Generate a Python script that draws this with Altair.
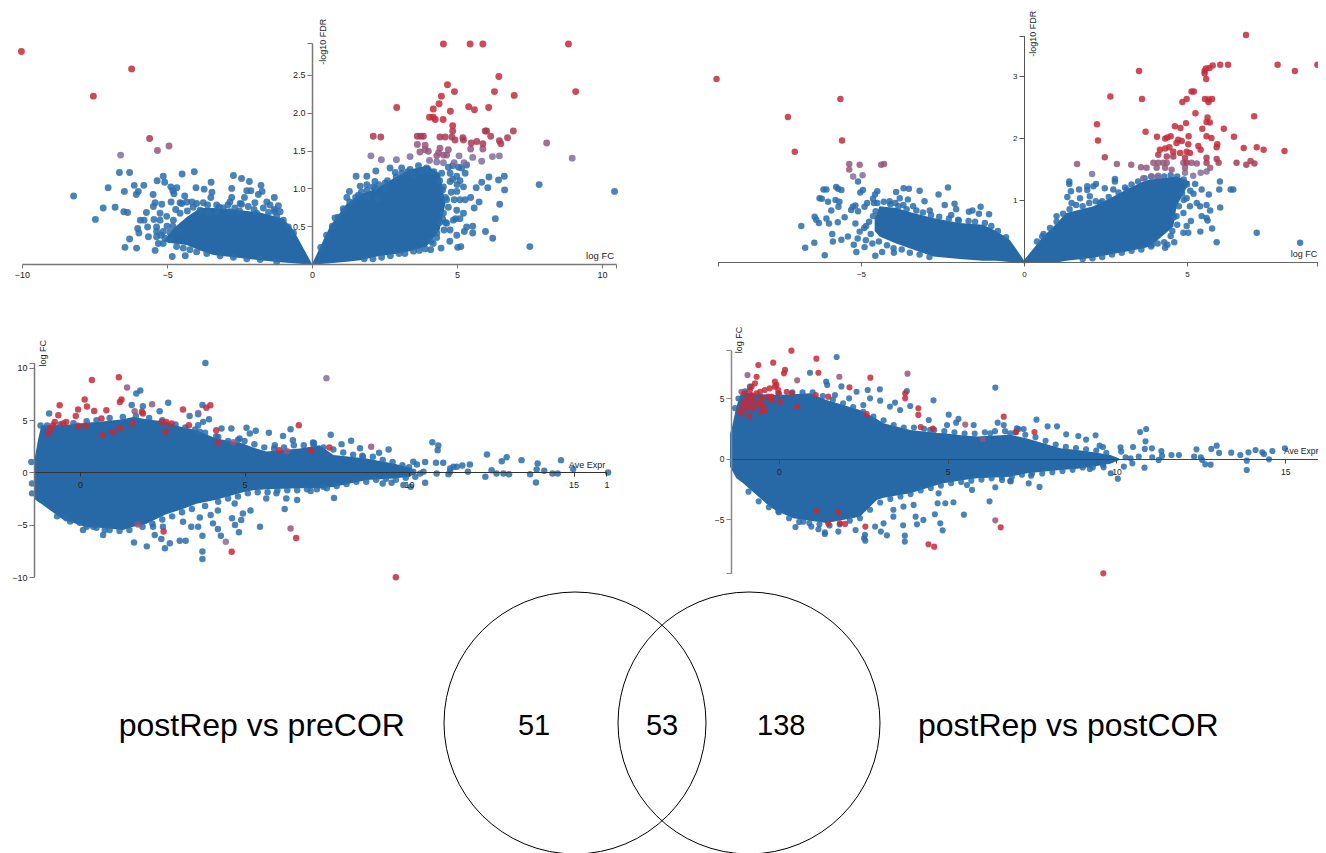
import altair as alt
import pandas as pd

W, H = 1310, 845
FONT = "Liberation Sans"
COLORS = {"blue": "#2a6dab", "purple": "#7f6f9f", "mauve": "#95567c", "wine": "#a93a54", "red": "#c42a39"}

# ---------- panel 1: volcano, postRep vs preCOR ----------
P1_UP_X = [-5.13, -4.78, -4.32, -3.86, -3.4, -2.71, -1.79, -0.99, -0.64, 0.0, 0.62, 1.2, 1.66, 2.23, 2.8, 3.38, 3.95, 4.4, 4.6]
P1_HI = [0.3, 0.47, 0.62, 0.74, 0.74, 0.72, 0.68, 0.6, 0.45, 0.0, 0.5, 0.8, 0.92, 1.0, 1.13, 1.25, 1.3, 1.2, 0.8]
P1_LO = [0.3, 0.27, 0.25, 0.18, 0.12, 0.09, 0.05, 0.02, 0.01, -0.01, 0.01, 0.03, 0.05, 0.1, 0.13, 0.17, 0.23, 0.45, 0.8]
P1_EDGE = [(-4.49,.8),(-4.32,.82),(-3.98,.8),(-3.86,.71),(-3.57,.67),(-3.29,.69),(-3.06,.74),(-2.83,.69),(-2.66,.74),(-2.43,.79),(-2.2,.76),(-1.91,.67),(-1.68,.74),(-1.45,.78),(-1.22,.63),(-.99,.58),(-.82,.49),(-.64,.41),
(-5.36,.49),(-5.24,.58),(-5.01,.63),(-4.78,.58),(-4.55,.67),(-5.36,.36),(-5.13,.27),(-4.9,.32),(-4.67,.23),(-4.44,.21),(-4.21,.19),(-3.98,.16),(-3.63,.14),(-3.17,.11),(-2.71,.09),(-2.25,.07),(-1.79,.06),(-1.22,.03),
(-5.0,.5),(-4.9,.42),(-4.8,.5),(-4.6,.45),(-5.2,.38),(-4.7,.72),(-4.3,.7),(-4.1,.75),(-3.6,.78),(-3.2,.75),(-2.9,.78),(-2.5,.7),(-2.0,.72),(-1.3,.72),(-1.5,.68),
(.3,.22),(.5,.38),(.7,.5),(.9,.62),(1.1,.7),(1.3,.82),(1.5,.88),(1.7,.95),(1.9,.98),(2.1,1.02),(2.3,1.05),(2.6,1.1),(2.5,1.0),(2.9,1.15),(3.1,1.2),(3.3,1.22),(3.5,1.18),(3.8,1.22),(4.0,1.25),(4.2,1.22),(4.4,1.1),(4.5,.98),(4.6,.88),(4.7,.75),
(4.5,.6),(4.4,.55),(4.55,.45),(4.3,.35),(4.1,.3),(3.9,.2),(3.7,.18),(3.5,.17),(3.2,.14),(3.0,.14),(2.7,.11),(2.4,.09),(2.1,.07),(1.8,.07),(4.8,.95),(4.9,.85),(4.95,.6),(5.1,.6),(4.75,.3),(4.6,.55),(5.0,1.05),(5.1,1.1),(4.85,1.12),(4.7,1.28),(4.85,1.3),(5.05,1.28)]
P1_BLUE = [(-6.64,1.21),(-6.29,1.21),(-7.03,1.01),(-8.22,.9),(-6.47,.96),(-6.13,1.04),(-5.8,1.04),(-5.99,.96),(-6.06,.92),(-5.48,.92),
(-5.34,1.1),(-5.13,1.16),(-5.08,1.08),(-4.48,1.19),(-4.06,1.22),(-4.87,1.02),(-4.66,1.01),(-4.8,.97),(-4.76,.93),(-4.39,.9),(-4.0,1.01),
(-3.72,.99),(-3.48,1.08),(-3.45,.95),(-3.49,.88),(-2.71,1.17),(-2.43,1.13),(-2.16,1.09),(-1.76,1.04),(-2.77,1.0),(-2.25,.97),(-2.11,.97),
(-1.72,.96),(-1.85,.92),(-1.3,.88),(-2.77,.88),(-2.33,.88),(-7.2,.74),(-6.79,.75),(-6.49,.69),(-6.36,.68),(-7.47,.59),(-5.71,.68),(-5.92,.58),
(-5.79,.58),(-5.67,.49),(-6.01,.47),(-5.97,.41),(-6.29,.33),(-6.45,.22),(-6.05,.21),(-4.82,.1),(-4.37,.11),(-5.41,.18),(-5.64,.36),(-5.47,.76),
(-5.41,.81),(-5.18,.79),(-4.86,.82),(-4.55,.81),(-5.24,.67),(-5.45,.59),(-5.36,.43),(-5.13,.43),(-4.14,.82),(-3.75,.81),(-3.29,.78),(-2.83,.82),
(-2.48,.8),(-1.97,.81),(-1.56,.82),(-1.16,.77),(-1.28,.69),(-1.1,.69),(-5.3,.27),(-5.07,.34),
(10.43,.96),(7.83,1.05),(7.51,.23),(6.23,.34),(5.98,.43),(6.32,.6),(6.47,.79),(6.64,.98),(6.63,1.16),(6.43,1.11),(6.1,1.15),(6.06,1.01),(5.85,1.08),
(5.66,1.01),(5.76,.82),(5.59,.74),(5.47,.88),(5.28,.85),(5.22,.67),(5.33,.49),(5.54,.5),(5.25,.43),(5.54,.41),(5.02,.22),(5.13,.23),(4.45,.21),(4.09,.19),
(4.99,.38),(4.76,.45),(4.87,.58),(4.99,.71),(5.1,.85),(5.22,1.02),(5.28,1.2),(5.33,1.31),(5.16,1.27),(1.52,1.16),(1.89,1.16),(2.2,1.23),(2.69,1.27),
(2.87,1.21),(3.09,1.27),(3.38,1.25),(3.67,1.3),(3.95,1.27),(1.66,1.03),(1.89,1.05),(2.17,1.09),(2.17,1.0),(2.52,1.07),(1.29,.96),(1.2,.88),(1.6,.91),
(1.89,.88),(2.25,.86),(1.08,.73),(.79,.61),(4.53,1.02),(4.76,1.09),(4.99,.96),(4.64,.85),(4.53,.67),(4.64,.54),(4.3,.41),(4.18,.27),(4.47,1.2),(4.76,1.2),(4.99,1.16)]
P1_PURPLE = [(-6.6,1.44),(2.03,1.43),(2.39,1.38),(2.91,1.38),(3.38,1.42),(5.07,1.43),(5.54,1.41),(6.22,1.42),(6.46,1.43),(8.97,1.4),(4.05,1.37),(4.3,1.35),(4.53,1.34),(4.9,1.34),(5.24,1.34),(5.85,1.36)]
P1_MAUVE = [(-5.33,1.5),(-4.93,1.56),(3.63,1.58),(3.9,1.57),(3.9,1.51),(3.72,1.48),(4.01,1.49),(4.41,1.53),(4.7,1.51),(4.36,1.47),(4.53,1.44),(4.3,1.43),(4.64,1.44),(5.47,1.52),(5.89,1.52),(8.09,1.6)]
P1_WINE = [(-5.6,1.66),(2.11,1.69),(2.37,1.68),(3.63,1.69),(3.75,1.69),(3.84,1.69),(4.41,1.68),(4.59,1.68),(4.82,1.68),(5.2,1.67),(6.16,1.69),(6.74,1.67),(4.93,1.64),(5.22,1.64),(6.46,1.63),(6.51,1.59),(5.68,1.62),(5.49,1.6),(5.89,1.59),(4.85,1.76),(5.97,1.76),(6.02,1.76),(6.94,1.76)]
P1_RED = [(-10.02,2.81),(-6.22,2.58),(-7.54,2.22),(4.53,2.91),(5.45,2.91),(5.89,2.91),(8.84,2.91),(6.44,2.48),(4.67,2.37),(4.91,2.28),(6.29,2.28),(9.09,2.28),(6.97,2.23),(4.46,2.22),(4.38,2.12),(2.92,2.07),(5.4,2.08),(5.6,2.04),(6.09,2.07),(4.18,2.05),(4.77,2.02),(4.05,1.94),(4.18,1.94),(4.25,1.91),(4.52,1.91),(4.85,1.83)]

# ---------- panel 2: volcano, postRep vs postCOR ----------
P2_UP_X = [-4.58, -4.43, -3.92, -3.4, -2.79, -1.97, -1.26, -0.85, -0.44, 0.0, 0.59, 1.0, 1.3, 2.13, 2.64, 3.15, 3.66, 3.87, 4.58, 4.68, 5.09]
P2_HI = [0.7, 0.9, 0.87, 0.79, 0.71, 0.63, 0.6, 0.5, 0.36, 0.03, 0.41, 0.62, 0.79, 0.9, 1.03, 1.17, 1.3, 1.33, 1.37, 1.38, 1.3]
P2_LO = [0.5, 0.41, 0.3, 0.2, 0.09, 0.05, 0.02, 0.02, 0.0, -0.02, -0.01, -0.01, 0.02, 0.07, 0.12, 0.17, 0.22, 0.25, 0.57, 0.9, 1.3]
P2_EDGE = [(-4.5,.95),(-4.3,.97),(-4.1,.93),(-3.85,.9),(-3.6,.85),(-3.3,.83),(-3.1,.8),(-2.85,.76),(-2.6,.73),(-2.3,.7),(-2.0,.67),(-1.7,.66),(-1.5,.65),(-1.2,.63),(-1.0,.58),(-.8,.5),(-.55,.4),(-4.75,.65),(-4.9,.55),(-4.7,.45),(-4.85,.35),(-4.65,.3),(-4.45,.33),(-4.2,.27),(-4.0,.22),(-3.75,.2),(-3.5,.15),(-3.2,.12),(-2.9,.08),(-5.1,.38),(-4.55,.82),(-4.6,.95),(-3.95,.95),(-3.7,.92),
(.4,.33),(.6,.45),(.8,.55),(1.0,.65),(1.2,.78),(1.4,.85),(1.6,.92),(1.8,.9),(2.0,.95),(2.2,.98),(2.4,.98),(2.6,1.05),(2.9,1.12),(3.1,1.2),(3.3,1.25),(3.5,1.3),(3.7,1.35),(3.9,1.38),(4.1,1.37),(4.3,1.38),(4.5,1.4),(4.7,1.38),(4.9,1.33),(5.0,1.25),(5.1,1.15),(4.85,1.1),(4.9,1.0),(4.75,.9),(4.6,.72),(4.7,.6),(4.55,.5),(4.5,.42),(4.3,.32),(4.1,.3),(3.9,.25),(3.6,.2),(3.3,.18),(3.0,.15),(2.7,.12),(2.4,.08),(2.1,.06),(1.8,.05),(5.2,1.1),(5.3,.95)]
P2_BLUE = [(-5.09,1.3),(-5.76,1.21),(-5.7,1.18),(-5.6,1.16),(-6.15,1.17),(-6.06,1.17),(-4.94,1.16),(-5.02,1.12),(-4.5,1.14),(-4.57,1.09),(-4.63,1.02),(-6.27,1.03),(-6.2,1.02),
(-6.01,.97),(-5.78,1.0),(-5.66,.97),(-5.69,.89),(-5.91,.83),(-5.25,.89),(-5.17,.91),(-5.3,.84),(-5.09,.82),(-4.81,.95),(-4.89,.89),(-6.42,.73),(-6.29,.63),(-6.37,.68),(-6.06,.7),(-5.98,.62),
(-6.83,.58),(-5.71,.64),(-5.5,.72),(-5.17,.62),(-5.88,.45),(-6.43,.31),(-6.71,.23),(-6.11,.11),(-5.86,.33),(-5.6,.36),(-5.14,.16),(-4.89,.24),(-4.56,.1),(-4.35,.16),(-3.99,.15),(-5.22,.28),
(-5.4,.41),(-5.04,.49),(-4.84,.58),(-4.63,.74),(-3.92,1.13),(-3.69,1.19),(-3.53,1.18),(-3.2,1.15),(-2.62,1.09),(-2.33,1.2),(-2.43,.92),(-2.13,.94),(-2.08,.85),(-1.33,.89),(-1.69,.81),(-1.58,.83),
(-1.38,.78),(-1.07,.77),(-3.81,1.03),(-3.56,1.01),(-4.12,.98),(-3.05,.98),(-2.89,.83),(-3.4,.9),(-2.23,.76),(-2.02,.68),
(8.47,.31),(7.14,.47),(5.91,.32),(5.41,.49),(5.77,.54),(6.01,1.3),(5.99,1.17),(6.34,1.17),(6.42,1.17),(5.67,1.09),(6.02,.88),(5.71,.83),(5.6,.92),(5.6,.71),(5.63,.67),(5.4,.9),(5.45,.74),(5.12,.66),
(4.99,.58),(4.89,.47),(5.04,.47),(4.61,.32),(4.33,.23),(4.4,.28),(3.92,.28),(5.45,1.17),(5.25,1.26),(4.99,1.03),(5.09,.9),(4.89,.79),(4.68,.74),(1.39,1.3),(1.39,1.26),(1.44,1.14),(1.69,1.17),(1.94,1.22),
(1.94,1.16),(2.21,1.26),(2.13,1.22),(2.48,1.19),(2.79,1.34),(2.79,1.3),(2.74,1.17),(1.0,.74),(1.33,1.05),(1.46,.95),(1.72,1.03),(2.02,1.06),(2.33,.95),(3.15,1.17),(.56,.41)]
P2_PURPLE = [(-5.24,1.38),(-4.95,1.4),(2.09,1.42),(3.66,1.35),(3.92,1.38),(4.12,1.39),(4.94,1.44),(5.19,1.39),(5.42,1.44),(5.6,1.46)]
P2_MAUVE = [(-5.36,1.49),(-5.36,1.58),(-5.04,1.57),(-4.38,1.57),(-4.29,1.58),(2.85,1.58),(3.29,1.57),(1.63,1.58),(3.97,1.6),(4.12,1.6),(4.27,1.6),(4.38,1.6),(4.89,1.6),(5.14,1.6),(5.3,1.59),(3.59,1.53),(3.76,1.52),(4.07,1.52),(4.33,1.52),(4.53,1.49),(4.94,1.52),(5.71,1.52)]
P2_WINE = [(2.48,1.69),(6.52,1.6),(6.95,1.63),(6.82,1.57),(7.07,1.59),(5.97,1.6),(4.99,1.6),(5.6,1.6),(4.12,1.73),(4.38,1.7),(4.58,1.7),(4.94,1.68),(5.6,1.68),(5.91,1.66)]
P2_RED = [(-9.43,2.95),(-5.63,2.63),(-7.24,2.34),(-5.58,1.96),(-7.03,1.78),(6.81,3.66),(7.78,3.18),(8.31,3.08),(9.0,3.18),(6.26,3.18),(6.02,3.18),(5.79,3.17),(5.69,3.13),(5.58,3.12),(5.54,3.08),(5.54,3.04),(5.59,2.95),
(3.53,3.08),(2.65,2.67),(3.62,2.63),(5.14,2.75),(5.21,2.75),(4.99,2.63),(4.86,2.58),(5.55,2.63),(5.66,2.62),(5.77,2.63),(5.66,2.58),(5.26,2.4),(7.06,2.35),(5.63,2.33),(5.6,2.26),(5.7,2.25),(4.97,2.24),(2.24,2.22),
(4.63,2.19),(4.8,2.16),(5.47,2.15),(6.13,2.15),(3.73,2.1),(2.27,1.96),(4.08,2.02),(5.05,2.03),(5.6,2.03),(5.75,2.0),(6.44,2.02),(4.33,1.99),(4.4,2.01),(4.5,2.03),(4.73,1.97),(4.84,1.95),(4.68,1.92),(5.04,1.9),(5.35,1.87),
(5.42,1.81),(5.93,1.9),(5.91,1.85),(6.74,1.84),(7.14,1.85),(7.35,1.81),(7.99,1.79),(4.17,1.81),(4.33,1.83),(4.46,1.85),(4.58,1.78),(4.79,1.76),(4.99,1.78),(5.09,1.76)]

# ---------- panel 3: MA, postRep vs preCOR ----------
P3_X = [-1.4, -1.28, -1.18, -0.52, -0.42, 0.19, 0.6, 1.31, 1.61, 2.02, 2.62, 3.03, 3.54, 4.14, 4.95, 5.26, 5.66, 6.68, 7.28, 7.7, 8.71, 9.52, 10.03, 10.2]
P3_HI = [1.0, 3.09, 4.5, 4.55, 4.57, 4.75, 4.84, 5.1, 5.3, 5.1, 4.84, 4.4, 4.04, 3.25, 2.76, 2.4, 2.0, 2.3, 2.6, 1.66, 1.34, 0.86, 0.48, 0.0]
P3_LO = [-2.5, -2.8, -3.0, -4.5, -4.6, -5.25, -5.3, -5.5, -5.2, -4.9, -4.0, -3.6, -3.0, -2.6, -1.9, -1.7, -1.6, -1.5, -1.5, -1.4, -0.73, -0.57, -0.41, 0.0]
P3_EDGE = [(4.2,3.4),(4.5,3.0),(4.8,3.1),(5.0,3.0),(5.3,2.7),(5.6,2.4),(5.9,2.3),(6.2,2.4),(6.5,2.6),(6.8,2.6),(7.1,2.6),(7.4,2.4),(7.7,2.2),(8.0,1.9),(8.3,1.7),(8.6,1.5),(8.9,1.5),(9.2,1.2),(9.5,1.0),(9.8,.7),(10.0,.5),
(4.2,-2.8),(4.5,-2.5),(4.8,-2.3),(5.1,-2.0),(5.4,-1.9),(5.7,-1.9),(6.0,-1.7),(6.3,-1.7),(6.6,-1.7),(6.9,-1.6),(7.2,-1.6),(7.5,-1.5),(7.8,-1.3),(8.1,-1.1),(8.4,-.9),(8.7,-.9),(9.0,-.7),(9.3,-.6),(9.6,-.7),(9.9,-.5),
(-1.2,4.5),(-1,4.5),(-.6,4.6),(-.2,4.7),(.2,4.9),(.5,5),(.9,5.2),(1.3,5.3),(1.7,5.4),(2.1,5.2),(2.5,5.0),(2.9,4.6),(3.2,4.3),(3.5,4.1),(3.8,3.8),
(-.7,-4.2),(-.3,-4.7),(.2,-5.2),(.5,-5.3),(.9,-5.5),(1.2,-5.6),(1.5,-5.5),(1.9,-5.2),(2.2,-4.9),(2.5,-4.5),(2.8,-4.2),(3.1,-3.8),(3.4,-3.5),(3.8,-3.2)]
P3_BLUE = [(3.81,10.48),(1.83,7.83),(1.71,7.55),(2.68,6.66),(3.72,6.46),(1.91,6.34),(1.57,6.46),(-.94,5.64),(2.42,5.86),(3.59,5.57),(3.33,5.41),(3.74,4.84),(3.92,5.1),(3.59,4.52),(4.3,4.2),(4.6,4.2),(5.06,4.27),(5.34,3.98),
(5.74,3.79),(6.17,3.5),(6.4,4.14),(6.47,3.09),(7.08,2.87),(5.16,3.73),(4.85,3.25),(5.92,2.61),(4.14,3.47),(3.64,3.89),(.09,-5.51),(-.42,-4.39),(-.01,-4.81),(.4,-5.19),(.7,-5.99),(.75,-5.51),(1.64,-6.69),(2.03,-7.07),(2.58,-7.26),
(2.27,-5.99),(2.47,-6.37),(2.73,-6.78),(3.03,-6.53),(3.21,-6.53),(3.72,-6.05),(3.64,-4.3),(3.72,-7.55),(3.72,-8.28),(3.97,-4.08),(4.19,-3.63),(4.04,-4.87),(4.19,-5.41),(4.28,-6.05),(4.62,-4.39),(4.71,-5.03),(4.83,-5.73),(4.9,-4.55),
(4.95,-3.92),(5.18,-3.63),(4.7,-2.96),(5.47,-5.19),(6.22,-3.5),(6.27,-2.48),(6.6,-2.64),(7.01,-1.78),(5.66,-2.48),(5.97,-2.0),(3.38,-5.19),(3.59,-5.19),(3.13,-4.71),(2.52,-5.19),(2.22,-5.19),(-1.48,1.0),(-1.46,-1.05),(-1.46,-2.0),
(7.62,3.6),(8.24,3.03),(7.95,2.71),(8.51,2.32),(9.38,2.2),(9.09,1.88),(8.58,1.59),(7.11,2.83),(10.71,2.9),(10.89,2.58),(10.87,2.13),(12.37,1.72),(12.97,1.46),(12.82,1.08),(13.42,1.18),(13.91,.86),(14.62,1.18),(11.85,.76),(11.62,.67),
(11.04,.92),(10.82,.92),(10.49,.99),(10.13,1.02),(10.24,.76),(11.35,.54),(11.25,.38),(11.2,-.16),(10.84,-.1),(10.49,-.99),(10.19,-.41),(10.05,-1.37),(9.83,-1.21),(9.2,-1.05),(9.47,-.99),(7.72,-2.45),(7.4,-1.37),(11.79,.06),(12.32,-.41),
(12.51,.22),(12.66,-.1),(12.87,-.1),(13.04,-.16),(13.68,-.16),(13.88,.29),(14.11,.16),(14.36,-.1),(14.52,-.1),(13.86,-.96),(14.99,.32),(16.05,0),(10.44,.06),(10.13,.06),(11.25,.06),(11.45,.54),(10.34,-.1)]
P3_PURPLE = [(4.43,-6.62),(7.49,9.01),(3.59,5.7)]
P3_MAUVE = [(1.43,8.12),(2.19,6.53),(1.66,5.86),(6.29,2.04),(1.76,-4.97),(6.4,-5.35),(8.85,2.45),(4.66,2.9)]
P3_RED = [(1.18,9.11),(.36,8.85),(.14,6.97),(1.26,6.97),(1.21,6.75),(-.62,6.43),(.21,6.31),(3.96,6.43),(3.84,6.18),(-.06,6.02),(-.13,5.41),(-.66,5.48),(1.88,5.8),(1.91,5.64),(3.13,6.02),(.43,5.89),(.8,5.96),(-.42,4.84),(-.52,4.68),
(-.77,4.84),(-.82,4.52),(-.92,4.2),(-.97,3.73),(-.06,4.46),(.17,4.46),(.65,5.16),(1.59,4.68),(1.21,4.2),(1.0,3.89),(.68,3.57),(2.48,4.84),(2.62,4.84),(2.78,4.68),(3.31,4.52),(2.6,3.89),(4.14,4.04),(4.19,2.9),(6.65,4.52),(6.05,2.13),
(7.03,2.1),(2.54,-5.64),(4.61,-7.58),(6.57,-6.27),(9.6,-10.03),(7.58,2.39)]

# ---------- panel 4: MA, postRep vs postCOR ----------
P4_X = [-1.45, -1.4, -1.26, -1.11, -1.06, -0.27, -0.07, 0.43, 0.92, 1.41, 2.4, 2.9, 3.1, 3.89, 4.68, 4.88, 5.47, 5.87, 6.85, 7.35, 8.34, 8.84, 9.33, 9.82, 10.07]
P4_HI = [2.1, 2.5, 4.33, 5.56, 5.5, 5.3, 5.29, 5.35, 5.43, 4.88, 4.05, 3.3, 2.95, 2.4, 2.15, 2.12, 1.95, 1.85, 2.0, 1.7, 0.88, 0.74, 0.55, 0.33, 0.05]
P4_LO = [-0.63, -0.9, -1.6, -1.9, -2.0, -3.94, -4.3, -4.9, -5.1, -5.3, -4.77, -3.39, -3.2, -2.84, -2.15, -2.0, -1.74, -1.6, -1.46, -1.18, -0.91, -0.8, -0.63, -0.4, -0.1]
P4_EDGE = [(-1.3,4.2),(-1.2,5),(-1.0,5.6),(.0,5.4),(.4,5.5),(.7,5.5),(1.0,5.5),(1.3,5.2),(1.6,4.9),(1.9,4.6),(2.2,4.3),(2.5,3.9),(2.8,3.5),(3.1,3.2),(3.4,2.8),(3.7,2.6),(4.0,2.6),(4.3,2.5),(4.6,2.4),(4.9,2.3),(5.2,2.2),(5.5,2.1),(5.8,2.1),(6.1,2.2),(6.4,2.3),(6.7,2.3),(7.0,2.2),(7.3,2.0),(7.6,1.8),(7.9,1.5),(8.2,1.2),(8.5,1.0),(8.8,.9),(9.1,.8),(9.4,.7),(9.7,.5),
(-.9,-2.7),(-.6,-3.5),(-.3,-4),(0,-4.4),(.3,-4.9),(.6,-5.2),(.9,-5.3),(1.2,-5.4),(1.5,-5.5),(1.8,-5.4),(2.1,-5.1),(2.4,-4.9),(2.7,-4.2),(3,-3.6),(3.3,-3.3),(3.6,-3.1),(3.9,-2.9),(4.2,-2.6),(4.5,-2.4),(4.8,-2.2),(5.1,-2),(5.4,-1.9),(5.7,-1.8),(6,-1.7),(6.3,-1.6),(6.6,-1.5),(6.9,-1.5),(7.2,-1.3),(7.5,-1.2),(7.8,-1.2),(8.1,-1.1),(8.4,-1),(8.7,-.9),(9,-.7),(9.3,-.7),(9.6,-.5)]
P4_BLUE = [(1.71,8.43),(.92,7.13),(6.41,5.9),(4.58,4.85),(1.4,6.39),(1.43,6.12),(1.85,6.0),(2.3,5.56),(2.63,5.7),(2.99,5.76),(3.79,5.62),(1.66,5.29),(2.08,5.01),(2.5,4.46),(3.0,4.82),(3.44,4.66),(3.89,4.38),(3.59,4.05),(4.44,3.22),(5.03,3.66),
(5.32,3.31),(5.25,3.0),(6.48,3.0),(5.77,2.81),(-.86,5.98),(2.7,5.01),(3.29,4.33),(4.48,2.4),(4.98,2.81),(6.66,2.81),(6.26,2.12),(6.85,2.12),(7.05,2.53),(-.02,-4.35),(.49,-5.62),(.96,-5.59),(1.17,-5.81),(1.36,-6.06),(1.36,-6.2),(1.76,-6.0),
(2.27,-5.87),(2.85,-5.59),(2.55,-6.28),(2.52,-6.56),(2.56,-6.75),(3.02,-6.0),(3.2,-6.31),(3.73,-6.34),(3.73,-6.83),(3.68,-5.48),(4.09,-5.4),(4.28,-5.04),(4.05,-4.77),(4.62,-4.57),(4.78,-5.32),(4.85,-5.9),(5.17,-3.58),(5.48,-4.6),(6.24,-3.5),
(6.41,-2.34),(6.87,-1.85),(5.72,-2.56),(5.57,-2.15),(4.93,-3.66),(4.7,-3.66),(4.73,-2.84),(3.99,-3.8),(3.69,-3.94),(3.39,-4.77),(3.1,-5.32),(3.39,-4.2),(.72,-5.18),(6.61,-1.74),
(7.63,3.25),(8.24,2.7),(7.96,2.7),(8.51,2.04),(9.38,1.96),(9.1,1.6),(8.87,1.9),(7.1,2.48),(7.25,2.48),(10.7,2.23),(10.88,2.48),(10.86,1.46),(10.49,.99),(10.84,.83),(11.05,.88),(10.12,.96),(10.14,.61),(9.5,1.1),(9.6,.99),(11.33,.66),(12.37,.8),
(12.81,.83),(12.97,1.1),(13.04,.5),(13.4,.52),(13.67,.33),(13.91,.55),(14.12,.74),(14.32,.55),(14.37,.41),(14.62,.66),(14.99,.88),(16.05,.63),(11.85,.33),(11.63,.33),(12.3,.19),(12.5,.14),(12.54,-.08),(12.63,-.44),(12.79,-.47),(13.86,-.14),
(13.86,-.91),(14.52,-.03),(11.25,-.08),(11.35,.25),(10.83,-.72),(10.22,-.63),(10.04,-1.63),(9.83,-1.18),(7.72,-2.31),(7.4,-2.01),(6.85,-1.82),(7.47,-1.38),(9.21,-.83),(9.62,-.69),(10.47,-.36),(11.06,.14),(10.66,.19),(10.42,.05),(10.27,.14)]
P4_MAUVE = [(-.93,6.94),(1.79,6.8),(3.81,7.05),(.54,6.5),(5.52,2.84),(6.04,1.63),(6.41,-5.07),(-1.11,5.56)]
P4_RED = [(.37,8.95),(1.11,8.29),(-.17,7.96),(-.61,7.77),(.18,7.36),(.15,7.08),(1.17,7.13),(-.66,6.8),(2.71,6.72),(2.09,5.92),(-.12,6.39),(3.74,5.43),(3.74,5.01),(4.13,4.19),(4.13,3.64),(2.6,3.72),(4.2,2.64),(4.56,2.51),(6.66,3.5),(7.03,2.23),(7.57,2.23),
(4.43,-7.05),(4.6,-7.25),(6.57,-5.65),(2.56,-5.59),(1.12,-4.3),(1.76,-4.38),(1.46,-5.34),(1.81,-5.32),(1.96,-5.37),(1.46,5.15),(1.09,5.29),(.23,5.56),(.38,5.43),(.54,4.33),(.03,4.74),(9.61,-9.45),
(-.81,5.98),(-.86,5.7),(-.71,6.25),(-.56,5.56),(-.42,5.7),(-.27,5.84),(-.12,5.98),(-.02,5.7),(-.07,6.12),(-1.01,5.43),(-.91,5.01),(-.76,4.88),(-.51,5.01),(-.22,4.88),(-.32,5.15),(-1.06,4.46),(-.96,4.19),(-1.16,4.05),(-.86,4.46),(-.76,4.19),
(-.61,4.46),(-.46,4.33),(-.51,3.91),(-1.11,3.77),(-.88,3.55),(-.42,4.05),(-1.01,4.74),(-.81,5.29),(-.66,5.43),(-.56,4.74),(-.22,5.15),(-.02,5.43)]

# ---------- Venn counts and set names ----------
VENN_CENTRES = [-1, 1]
VENN_TEXT = ["51", "53", "138", "postRep vs preCOR", "postRep vs postCOR"]
VENN_TEXT_X = [-1.47, 0.0, 1.37, -4.6, 4.67]
VENN_TEXT_SIZE = [29, 29, 29, 32, 32]


def frame(**groups):
    rows = []
    for name, pts in groups.items():
        rows += [{"x": a, "y": b, "g": name} for a, b in pts]
    return pd.DataFrame(rows)


def scale(dom, px):
    return alt.Scale(domain=dom, range=[px[0] - 8, px[1] - 8], nice=False, zero=False)


def panel(xd, xp, yd, yp, x0_px, y0_px, dense, points, labels, xa, ya, size, axis_col):
    sx, sy = scale(xd, xp), scale(yd, yp)
    lx, hi, lo = dense
    area = alt.Chart(pd.DataFrame({"x": lx, "hi": hi, "lo": lo})).mark_area(color="#2769a7", opacity=1, interpolate="linear").encode(
        x=alt.X("x:Q", scale=sx, axis=None),
        y=alt.Y("hi:Q", scale=sy, axis=None),
        y2="lo:Q",
    )
    common = dict(grid=False, labelFont=FONT, labelColor="#222", labelOverlap=False, labelFlush=False, labelBound=False, zindex=1)
    pts = alt.Chart(points).mark_circle(size=size, opacity=0.85).encode(
        x=alt.X("x:Q", scale=sx, title=None, axis=alt.Axis(
            orient="bottom", offset=-(H - (y0_px - 8)), values=xa["values"], labelExpr=xa["expr"],
            domainColor=axis_col[0], domainWidth=axis_col[1], tickColor=axis_col[0], tickWidth=1, tickSize=4,
            labelFontSize=xa["fs"], labelPadding=xa["pad"], **common)),
        y=alt.Y("y:Q", scale=sy, title=None, axis=alt.Axis(
            orient="left", offset=-(x0_px - 8), values=ya["values"], labelExpr=ya["expr"],
            domainColor=axis_col[2], domainWidth=axis_col[3], tickColor=axis_col[2], tickWidth=1, tickSize=5,
            labelFontSize=ya["fs"], labelPadding=2, **common)),
        color=alt.Color("g:N", scale=alt.Scale(domain=list(COLORS), range=list(COLORS.values())), legend=None),
    )
    txt = alt.Chart(pd.DataFrame(labels)).mark_text(font=FONT, color="#222", align="center", baseline="middle").encode(
        x=alt.X("x:Q", scale=sx, axis=None),
        y=alt.Y("y:Q", scale=sy, axis=None),
        text="t:N",
        angle=alt.Angle("a:Q", scale=None),
        size=alt.Size("s:Q", scale=None),
    )
    return [area, pts, txt]


layers = []
layers += panel([-10, 10.48], [22, 616], [0, 2.92], [264, 43.2], 312, 264,
    (P1_UP_X, P1_HI, P1_LO), frame(blue=P1_EDGE + P1_BLUE, purple=P1_PURPLE, mauve=P1_MAUVE, wine=P1_WINE, red=P1_RED),
    {"x": [0.37, 9.93], "y": [2.94, 0.11], "t": ["-log10 FDR", "log FC"], "a": [270, 0], "s": [9, 9.5]},
    {"values": [-10, -5, 0, 5, 10, 10.48], "expr": "datum.value == 10.48 ? '' : datum.label", "fs": 9, "pad": 2},
    {"values": [0.5, 1, 1.5, 2, 2.5, 2.92], "expr": "datum.value == 2.92 ? '' : format(datum.value, '.1f')", "fs": 9},
    48, ("#777777", 1.5, "#777777", 1.5))
layers += panel([-9.4, 9.0], [717.5, 1317.4], [0, 3.65], [262, 35.7], 1024, 262,
    (P2_UP_X, P2_HI, P2_LO), frame(blue=P2_EDGE + P2_BLUE, purple=P2_PURPLE, mauve=P2_MAUVE, wine=P2_WINE, red=P2_RED),
    {"x": [0.28, 8.59], "y": [3.68, 0.13], "t": ["-log10 FDR", "log FC"], "a": [270, 0], "s": [9, 9]},
    {"values": [-9.4, -5, 0, 5, 9], "expr": "abs(datum.value) > 6 ? '' : datum.label", "fs": 8, "pad": 4},
    {"values": [1, 2, 3, 3.65], "expr": "datum.value > 3 ? '' : datum.label", "fs": 8},
    42, ("#666666", 1, "#555555", 1))
layers += panel([-1.4, 16], [34, 606.4], [-10, 10.5], [577, 362.7], 34, 472,
    (P3_X, P3_HI, P3_LO), frame(blue=P3_EDGE + P3_BLUE, purple=P3_PURPLE, mauve=P3_MAUVE, red=P3_RED),
    {"x": [-1.12, 15.41], "y": [11.4, 0.76], "t": ["log FC", "Ave Expr"], "a": [270, 0], "s": [9, 9]},
    {"values": [0, 5, 10, 15, 16], "expr": "datum.value == 16 ? '1' : datum.label", "fs": 9, "pad": 4},
    {"values": [-10, -5, 0, 5, 10, 10.5], "expr": "datum.value == 10.5 ? '' : datum.label", "fs": 9},
    42, ("#333333", 1, "#777777", 1.5))
layers += panel([-1.42, 16], [731, 1319], [-9.45, 9], [573.3, 350.1], 731, 459,
    (P4_X, P4_HI, P4_LO), frame(blue=P4_EDGE + P4_BLUE, mauve=P4_MAUVE, red=P4_RED),
    {"x": [-1.19, 15.47], "y": [9.83, 0.66], "t": ["log FC", "Ave Expr"], "a": [270, 0], "s": [9, 8.5]},
    {"values": [0, 5, 10, 15, 16], "expr": "datum.value == 16 ? '' : datum.label", "fs": 8.5, "pad": 4},
    {"values": [-9.45, -5, 0, 5, 9], "expr": "abs(datum.value) > 6 ? '' : datum.label", "fs": 8.5},
    38, ("#444444", 1.2, "#888888", 1.5))

venn_x = alt.Scale(domain=[-7, 7], range=[45, 1263], nice=False, zero=False)
venn_y = alt.Scale(domain=[-1, 1], range=[846, 584], nice=False, zero=False)
layers.append(
    alt.Chart(pd.DataFrame({"x": VENN_CENTRES, "y": [0, 0]})).mark_point(shape="circle", filled=False, size=68644, color="black", strokeWidth=1, opacity=1).encode(
        x=alt.X("x:Q", scale=venn_x, axis=None), y=alt.Y("y:Q", scale=venn_y, axis=None))
)
layers.append(
    alt.Chart(pd.DataFrame({"x": VENN_TEXT_X, "y": [-0.025] * 5, "t": VENN_TEXT, "s": VENN_TEXT_SIZE})).mark_text(font=FONT, color="black", align="center", baseline="middle").encode(
        x=alt.X("x:Q", scale=venn_x, axis=None), y=alt.Y("y:Q", scale=venn_y, axis=None), text="t:N", size=alt.Size("s:Q", scale=None))
)

chart = alt.layer(*layers).resolve_scale(x="independent", y="independent").properties(
    width=W, height=H, padding=0, autosize=alt.AutoSizeParams(type="none")
).configure_view(stroke=None)

chart.save("out.html", embed_options={"renderer": "svg", "actions": False})
